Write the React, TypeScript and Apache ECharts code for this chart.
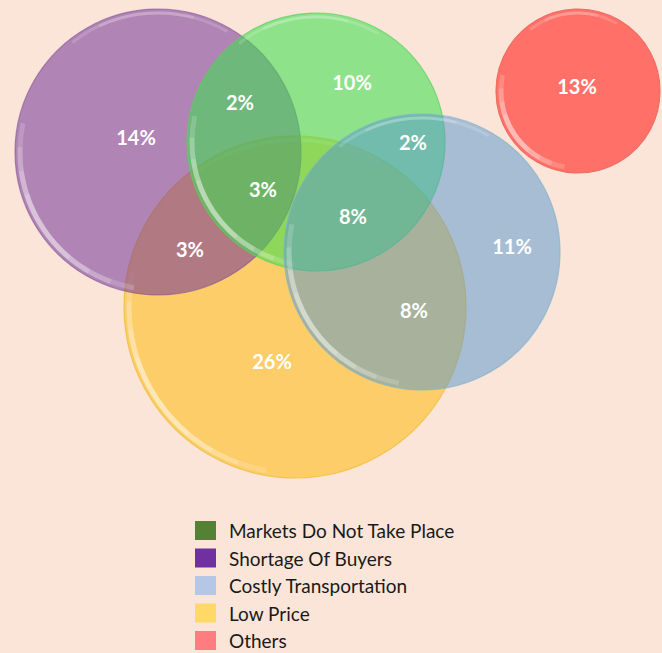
import React, { useEffect, useRef } from "react";
import * as echarts from "echarts";

// Circles: [centerX, centerY, radius] in chart units
const categories = ["Markets Do Not Take Place", "Shortage Of Buyers", "Costly Transportation", "Low Price", "Others"];
const legendColors = ["#548235", "#7030A0", "#B4C7E7", "#FFD966", "#FF7C80"];
const circleMarkets = [316, 142, 129];
const circleShortage = [158, 152, 143];
const circleCostly = [422, 252, 138];
const circleLowPrice = [295, 307, 171];
const circleOthers = [578, 91, 82];

// Region labels
const labelX = [136, 240, 352, 577, 413, 263, 353, 512, 190, 414, 272];
const labelY = [137, 102, 82, 86, 142, 189, 216, 246, 249, 310, 361];
const labelText = ["14%", "2%", "10%", "13%", "2%", "3%", "8%", "11%", "3%", "8%", "26%"];

const deg = Math.PI / 180;

function circleRenderer(fill: string, stroke: string) {
  return (params: any, api: any) => {
    const c = api.coord([api.value(0), api.value(1)]);
    const s = api.size([api.value(2), api.value(2)]);
    const r = Math.abs(s[0]);
    const cx = c[0];
    const cy = c[1];
    const lower = [
      [100, 192],
      [110, 182],
      [120, 172],
      [130, 162],
    ].map(([a, b]) => ({
      type: "arc",
      shape: { cx, cy, r: r - 5, startAngle: a * deg, endAngle: b * deg, clockwise: true },
      style: { stroke: "rgba(255,255,255,0.17)", lineWidth: 5, fill: null },
    }));
    const upper = [
      [232, 300],
      [245, 285],
    ].map(([a, b]) => ({
      type: "arc",
      shape: { cx, cy, r: r - 4, startAngle: a * deg, endAngle: b * deg, clockwise: true },
      style: { stroke: "rgba(255,255,255,0.16)", lineWidth: 3, fill: null },
    }));
    return {
      type: "group",
      children: [
        { type: "circle", shape: { cx, cy, r }, style: { fill, stroke, lineWidth: 1.2 } },
        ...lower,
        ...upper,
      ],
    };
  };
}

export default function App() {
  const ref = useRef<HTMLDivElement>(null);
  useEffect(() => {
    document.body.style.margin = "0";
    const chart = echarts.init(ref.current!, null, { renderer: "svg" });
    const circleSeries = (name: string, data: number[], fill: string, stroke: string) => ({
      type: "custom",
      name,
      coordinateSystem: "cartesian2d",
      silent: true,
      data: [data],
      renderItem: circleRenderer(fill, stroke),
    });
    chart.setOption({
      animation: false,
      backgroundColor: "#FAE5D8",
      grid: { left: 0, right: 0, top: 0, bottom: 0 },
      xAxis: { type: "value", min: 0, max: 662, show: false },
      yAxis: { type: "value", min: 0, max: 653, inverse: true, show: false },
      legend: {
        orient: "vertical",
        left: 195,
        top: 521,
        height: 200,
        padding: 0,
        itemWidth: 21,
        itemHeight: 19,
        itemGap: 8.5,
        icon: "rect",
        selectedMode: false,
        textStyle: { fontFamily: "Lato", fontSize: 19, lineHeight: 19, color: "#1a1a1a", padding: [0, 0, 0, 8] },
        data: categories.map((n, i) => ({ name: n, itemStyle: { color: legendColors[i], opacity: 1, borderWidth: 0 } })),
      },
      series: [
        circleSeries(categories[3], circleLowPrice, "rgba(255,189,31,0.6)", "rgba(240,190,60,0.8)"),
        circleSeries(categories[1], circleShortage, "rgba(115,53,152,0.55)", "rgba(130,80,150,0.6)"),
        circleSeries(categories[0], circleMarkets, "rgba(60,224,79,0.57)", "rgba(90,210,90,0.7)"),
        circleSeries(categories[2], circleCostly, "rgba(84,149,208,0.5)", "rgba(130,180,200,0.7)"),
        circleSeries(categories[4], circleOthers, "rgba(255,112,104,1)", "rgba(240,110,100,1)"),
        {
          type: "scatter",
          silent: true,
          symbolSize: 0,
          z: 10,
          itemStyle: { opacity: 1 },
          data: labelText.map((t, i) => [labelX[i], labelY[i], t]),
          label: {
            show: true,
            position: "inside",
            formatter: (p: any) => p.value[2],
            color: "#ffffff",
            opacity: 1,
            fontFamily: "Lato",
            fontWeight: "bold",
            fontSize: 20,
          },
        },
      ],
    });
    return () => chart.dispose();
  }, []);
  return <div ref={ref} style={{ position: "absolute", left: 0, top: 0, width: 662, height: 653 }} />;
}
